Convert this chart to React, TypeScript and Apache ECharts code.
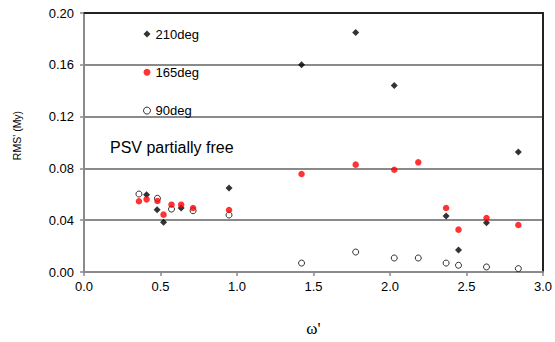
import React, { useEffect, useRef } from "react";
import * as echarts from "echarts";

const xTicks = ["0.0", "0.5", "1.0", "1.5", "2.0", "2.5", "3.0"];
const yTicks = ["0.00", "0.04", "0.08", "0.12", "0.16", "0.20"];

const x210 = [0.409, 0.478, 0.52, 0.635, 0.948, 1.422, 1.776, 2.028, 2.367, 2.448, 2.631, 2.839];
const y210 = [0.0597, 0.048, 0.0385, 0.0494, 0.0649, 0.16, 0.185, 0.144, 0.0432, 0.017, 0.038, 0.0927];

const x165 = [0.359, 0.409, 0.48, 0.52, 0.572, 0.635, 0.713, 0.948, 1.422, 1.776, 2.028, 2.185, 2.367, 2.448, 2.631, 2.839];
const y165 = [0.0546, 0.0561, 0.0548, 0.0443, 0.052, 0.052, 0.0494, 0.0479, 0.0757, 0.0829, 0.079, 0.0847, 0.0494, 0.0327, 0.0417, 0.0363];

const x90 = [0.359, 0.48, 0.572, 0.713, 0.948, 1.422, 1.776, 2.028, 2.185, 2.367, 2.448, 2.631, 2.839];
const y90 = [0.0602, 0.0569, 0.0486, 0.0473, 0.044, 0.0069, 0.0154, 0.0108, 0.0108, 0.0069, 0.0052, 0.0039, 0.0026];

const seriesNames = ["210deg", "165deg", "90deg"];
const annotation = "PSV partially free";
const xName = "ω'";
const yName = "RMS' (My)";

const FONT = "'Liberation Sans', Arial, sans-serif";

function zip(xs: number[], ys: number[]) {
  return xs.map((x, i) => [x, ys[i]]);
}

export default function App() {
  const ref = useRef<HTMLDivElement>(null);
  useEffect(() => {
    if (!ref.current) return;
    const chart = echarts.init(ref.current, undefined, { renderer: "svg" });
    const gray = "#8a8a8a";
    chart.setOption({
      animation: false,
      backgroundColor: "#ffffff",
      grid: { left: 84, right: 11, top: 13, bottom: 70 },
      legend: {
        orient: "vertical",
        left: 138,
        top: 21,
        itemWidth: 7,
        itemHeight: 7,
        itemGap: 22.3,
        data: [
          { name: seriesNames[0] },
          { name: seriesNames[1] },
          { name: seriesNames[2], itemStyle: { color: "#fff", borderColor: "#000", borderWidth: 1 } },
        ],
        textStyle: { fontFamily: FONT, fontSize: 13, color: "#000", lineHeight: 16 },
      },
      xAxis: [
        {
          type: "value",
          min: 0,
          max: 3,
          interval: 0.5,
          name: xName,
          nameLocation: "middle",
          nameGap: 48,
          nameTextStyle: { fontFamily: "'Liberation Serif', 'Times New Roman', serif", fontSize: 17, color: "#000" },
          axisLine: { show: true, lineStyle: { color: gray, width: 2 } },
          axisTick: { show: true, length: 4, lineStyle: { color: gray, width: 1.5 } },
          axisLabel: {
            fontFamily: FONT,
            fontSize: 13,
            color: "#000",
            margin: 8,
            formatter: (v: number) => xTicks[Math.round(v / 0.5)] ?? "",
          },
          splitLine: { show: false },
        },
        {
          type: "value",
          position: "top",
          min: 0,
          max: 3,
          axisLine: { show: true, onZero: false, lineStyle: { color: "#222", width: 2 } },
          axisTick: { show: false },
          axisLabel: { show: false },
          splitLine: { show: false },
        },
      ],
      yAxis: [
        {
          type: "value",
          min: 0,
          max: 0.2,
          interval: 0.04,
          name: yName,
          nameLocation: "middle",
          nameGap: 62,
          nameTextStyle: { fontFamily: FONT, fontSize: 10.5, color: "#000", padding: [0, 0, 0, 14] },
          axisLine: { show: true, lineStyle: { color: gray, width: 2 } },
          axisTick: { show: true, length: 4, lineStyle: { color: gray, width: 1.5 } },
          axisLabel: {
            fontFamily: FONT,
            fontSize: 13,
            color: "#000",
            margin: 10,
            formatter: (v: number) => yTicks[Math.round(v / 0.04)] ?? "",
          },
          splitLine: { show: true, lineStyle: { color: gray, width: 2 } },
        },
        {
          type: "value",
          position: "right",
          min: 0,
          max: 0.2,
          axisLine: { show: true, onZero: false, lineStyle: { color: "#222", width: 2 } },
          axisTick: { show: false },
          axisLabel: { show: false },
          splitLine: { show: false },
        },
      ],
      graphic: [
        {
          type: "text",
          left: 110,
          top: 139,
          style: { text: annotation, fontFamily: FONT, fontSize: 16, fill: "#000" },
        },
      ],
      series: [
        {
          name: seriesNames[2],
          type: "scatter",
          symbol: "circle",
          symbolSize: 6,
          itemStyle: { color: "#ffffff", borderColor: "#000", borderWidth: 1 },
          data: zip(x90, y90),
          z: 2,
        },
        {
          name: seriesNames[0],
          type: "scatter",
          symbol: "diamond",
          symbolSize: 7,
          itemStyle: { color: "#000" },
          data: zip(x210, y210),
          z: 3,
        },
        {
          name: seriesNames[1],
          type: "scatter",
          symbol: "circle",
          symbolSize: 6.5,
          itemStyle: { color: "#ff0000" },
          data: zip(x165, y165),
          z: 4,
        },
      ],
    });
    return () => chart.dispose();
  }, []);
  return (
    <div
      ref={ref}
      style={{ position: "absolute", left: 0, top: 0, width: 555, height: 342, background: "#fff" }}
    />
  );
}
